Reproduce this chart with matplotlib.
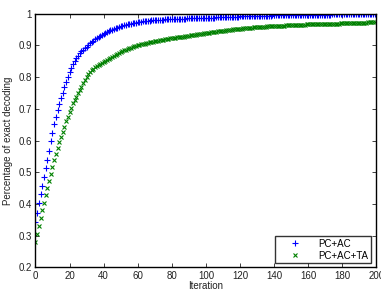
import matplotlib
matplotlib.use('Agg')
import matplotlib.pyplot as plt
from matplotlib.ticker import FormatStrFormatter
import numpy as np

plt.rcParams['font.family'] = ['Liberation Sans', 'DejaVu Sans']

# values, one per iteration (0..199)
pc_ac = [
    0.342, 0.372, 0.402, 0.430, 0.457, 0.484, 0.512, 0.540, 0.568, 0.598,
    0.625, 0.652, 0.675, 0.697, 0.715, 0.733, 0.750, 0.768, 0.784, 0.800,
    0.815, 0.828, 0.840, 0.851, 0.860, 0.868, 0.875, 0.881, 0.886, 0.891,
    0.896, 0.902, 0.907, 0.911, 0.915, 0.919, 0.922, 0.925, 0.929, 0.932,
    0.936, 0.939, 0.943, 0.945, 0.948, 0.950, 0.952, 0.954, 0.956, 0.958,
    0.960, 0.961, 0.963, 0.964, 0.966, 0.967, 0.969, 0.970, 0.971, 0.972,
    0.973, 0.974, 0.975, 0.976, 0.977, 0.977, 0.978, 0.978, 0.979, 0.979,
    0.980, 0.980, 0.980, 0.981, 0.981, 0.981, 0.982, 0.982, 0.982, 0.982,
    0.983, 0.983, 0.983, 0.983, 0.984, 0.984, 0.984, 0.984, 0.984, 0.985,
    0.985, 0.985, 0.985, 0.985, 0.986, 0.986, 0.986, 0.986, 0.987, 0.987,
    0.987, 0.987, 0.988, 0.988, 0.988, 0.988, 0.989, 0.989, 0.989, 0.989,
    0.990, 0.990, 0.990, 0.990, 0.990, 0.991, 0.991, 0.991, 0.991, 0.991,
    0.992, 0.992, 0.992, 0.992, 0.992, 0.992, 0.993, 0.993, 0.993, 0.993,
    0.993, 0.993, 0.994, 0.994, 0.994, 0.994, 0.994, 0.994, 0.994, 0.995,
    0.995, 0.995, 0.995, 0.995, 0.995, 0.995, 0.995, 0.996, 0.996, 0.996,
    0.996, 0.996, 0.996, 0.996, 0.996, 0.996, 0.996, 0.997, 0.997, 0.997,
    0.997, 0.997, 0.997, 0.997, 0.997, 0.997, 0.997, 0.997, 0.997, 0.997,
    0.997, 0.997, 0.997, 0.997, 0.998, 0.998, 0.998, 0.998, 0.998, 0.998,
    0.998, 0.998, 0.998, 0.998, 0.998, 0.998, 0.998, 0.998, 0.998, 0.998,
    0.998, 0.998, 0.998, 0.998, 0.998, 0.998, 0.998, 0.998, 0.998, 0.998,
]

pc_ac_ta = [
    0.280, 0.306, 0.330, 0.355, 0.380, 0.403, 0.427, 0.450, 0.472, 0.494,
    0.515, 0.537, 0.558, 0.577, 0.595, 0.612, 0.628, 0.644, 0.660, 0.675,
    0.690, 0.704, 0.717, 0.728, 0.738, 0.749, 0.759, 0.770, 0.780, 0.790,
    0.800, 0.810, 0.816, 0.822, 0.827, 0.831, 0.836, 0.839, 0.842, 0.845,
    0.848, 0.851, 0.854, 0.857, 0.860, 0.863, 0.866, 0.869, 0.872, 0.875,
    0.878, 0.881, 0.884, 0.887, 0.889, 0.891, 0.893, 0.895, 0.897, 0.899,
    0.900, 0.902, 0.903, 0.905, 0.906, 0.908, 0.909, 0.910, 0.911, 0.912,
    0.913, 0.914, 0.915, 0.916, 0.917, 0.918, 0.919, 0.920, 0.921, 0.922,
    0.923, 0.924, 0.924, 0.925, 0.926, 0.927, 0.928, 0.928, 0.929, 0.930,
    0.931, 0.932, 0.932, 0.933, 0.934, 0.935, 0.936, 0.937, 0.937, 0.938,
    0.939, 0.940, 0.940, 0.941, 0.942, 0.943, 0.943, 0.944, 0.945, 0.946,
    0.946, 0.947, 0.948, 0.949, 0.950, 0.950, 0.951, 0.951, 0.952, 0.952,
    0.953, 0.953, 0.954, 0.954, 0.955, 0.955, 0.956, 0.956, 0.957, 0.957,
    0.958, 0.958, 0.958, 0.959, 0.959, 0.959, 0.960, 0.960, 0.960, 0.961,
    0.961, 0.961, 0.961, 0.962, 0.962, 0.962, 0.962, 0.963, 0.963, 0.963,
    0.963, 0.964, 0.964, 0.964, 0.964, 0.965, 0.965, 0.965, 0.965, 0.966,
    0.966, 0.966, 0.966, 0.966, 0.967, 0.967, 0.967, 0.967, 0.967, 0.968,
    0.968, 0.968, 0.968, 0.968, 0.969, 0.969, 0.969, 0.969, 0.969, 0.970,
    0.970, 0.970, 0.970, 0.970, 0.971, 0.971, 0.971, 0.971, 0.971, 0.972,
    0.972, 0.972, 0.972, 0.972, 0.972, 0.973, 0.973, 0.973, 0.973, 0.973,
]

iterations = list(range(len(pc_ac)))
labels = ['PC+AC', 'PC+AC+TA']
xticks = [0, 20, 40, 60, 80, 100, 120, 140, 160, 180, 200]
yticks = [0.2, 0.3, 0.4, 0.5, 0.6, 0.7, 0.8, 0.9, 1.0]

fig = plt.figure(figsize=(3.81, 2.98), dpi=100)
ax = fig.add_axes([0.093, 0.103, 0.895, 0.851])

ax.plot(iterations, pc_ac, linestyle='none', marker='+', color='#0000ff',
        markersize=5, markeredgewidth=0.8, label=labels[0])
ax.plot(iterations, pc_ac_ta, linestyle='none', marker='x', color='#008000',
        markersize=3.5, markeredgewidth=0.8, label=labels[1])

ax.set_xlim(0, 200)
ax.set_ylim(0.2, 1)
ax.set_xticks(xticks)
ax.set_yticks(yticks)
ax.yaxis.set_major_formatter(FormatStrFormatter('%g'))
ax.tick_params(direction='in', top=True, right=True, length=3, width=0.6,
               labelsize=7, pad=2.5, colors='#222222')
for s in ax.spines.values():
    s.set_linewidth(1.0)

ax.set_xlabel('Iteration', fontsize=7, labelpad=0.5, color='#222222')
ax.set_ylabel('Percentage of exact decoding', fontsize=7, labelpad=4,
              color='#222222')

# MATLAB-style legend box in the lower right corner
leg = ax.legend(loc='lower right', bbox_to_anchor=(0.984, 0.017),
                borderaxespad=0, fontsize=7, frameon=True, fancybox=False,
                edgecolor='black', handletextpad=0.6, handlelength=3.6,
                borderpad=0.25, labelspacing=0.2)
leg.get_frame().set_linewidth(1.0)

plt.savefig('out.png', dpi=100)
